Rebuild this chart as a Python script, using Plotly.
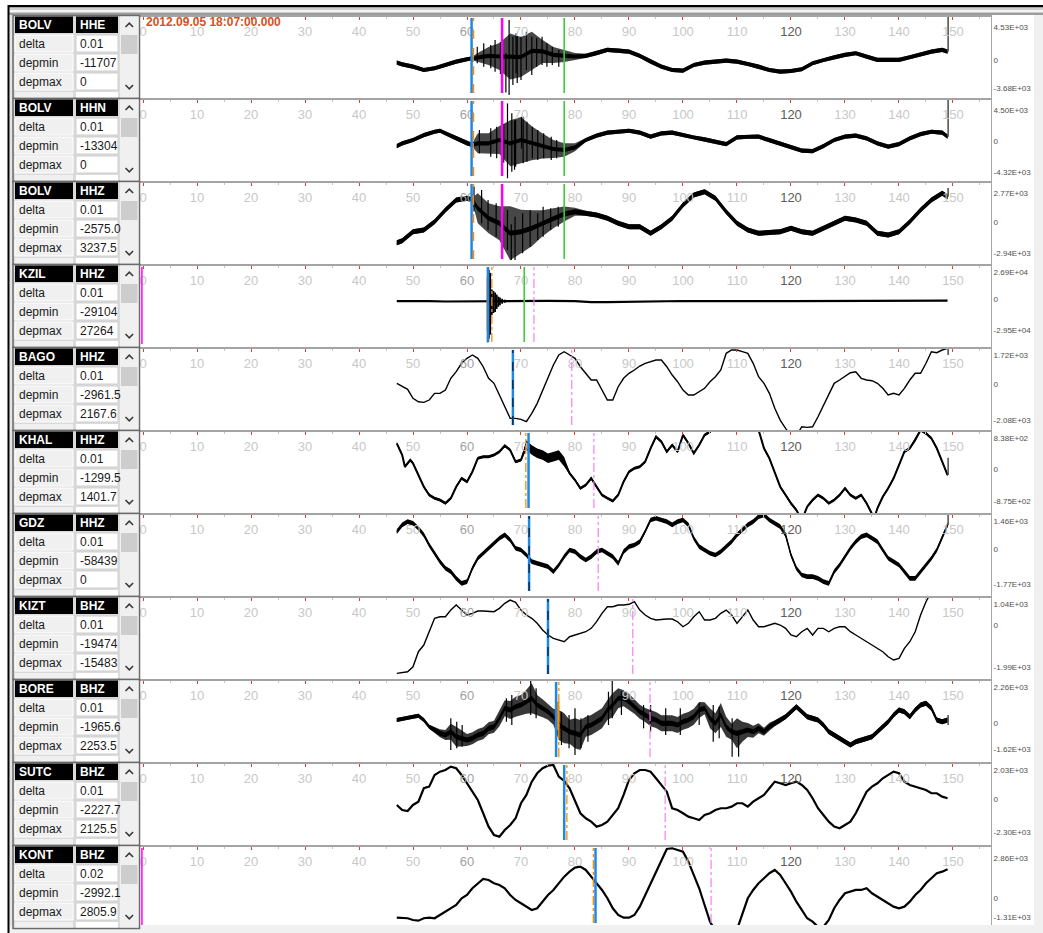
import plotly.graph_objects as go

W, H = 1043, 933
FONT = "Liberation Sans, Arial, sans-serif"

# ---------------- station header table ----------------
stations = ["BOLV", "BOLV", "BOLV", "KZIL", "BAGO", "KHAL", "GDZ", "KIZT", "BORE", "SUTC", "KONT"]
channels = ["HHE", "HHN", "HHZ", "HHZ", "HHZ", "HHZ", "HHZ", "BHZ", "BHZ", "BHZ", "BHZ"]
delta = ["0.01", "0.01", "0.01", "0.01", "0.01", "0.01", "0.01", "0.01", "0.01", "0.01", "0.02"]
depmin = ["-11707", "-13304", "-2575.0", "-29104", "-2961.5", "-1299.5", "-58439", "-19474", "-1965.6", "-2227.7", "-2992.1"]
depmax = ["0", "0", "3237.5", "27264", "2167.6", "1401.7", "0", "-15483", "2253.5", "2125.5", "2805.9"]

# amplitude scale labels of each trace window (counts)
amp_max = [4530, 4500, 2770, 26900, 1720, 838, 1460, 1040, 2260, 2030, 2860]
amp_min = [-3680, -4320, -2940, -29500, -2080, -875, -1770, -1990, -1620, -2300, -1310]

x_ticks = list(range(0, 151, 10))
start_time = "2012.09.05 18:07:00.000"

# ---------------- waveforms (time in s, amplitude in counts) ----------------
t_2s = [47, 48, 50, 52, 54, 56, 58, 60, 61] + list(range(62, 149, 2)) + [149]
t_1s = list(range(47, 150))

bolv_hhe_v = [-270, -490, -810, -1255, -1025, -580, -135, 190, 325,
              430, 635, 565, 560, 490, 1310, 1240, 770, 635, 565,
              635, 1000, 1445, 1350, 1215, 635, -135, -810, -1255, -1350,
              -580, -270, -135, 0, -135, -445, -810, -1255, -1485, -1390,
              -1160, -350, 95, 460, 770, 1000, 540, 95, 95, 95,
              460, 865, 1215, 1445, 1215]
bolv_hhe_hw = [280, 280, 280, 280, 280, 280, 280, 280, 280,
               610, 1215, 1820, 3100, 2700, 2565, 1550, 1080, 810, 470,
               280, 280, 280, 280, 280, 280, 280, 280, 280, 280,
               280, 280, 280, 280, 280, 280, 280, 280, 280, 280,
               280, 280, 280, 280, 280, 280, 280, 280, 280, 280,
               280, 280, 280, 280, 280]
bolv_hhe_spikes = [(61.9, -360, 1880), (63.1, -810, 2330), (64.4, -1030, 2110),
                   (65.2, -1480, 2780), (66.2, -1800, 2500), (66.4, -3050, 1880),
                   (67.2, -4300, 1000), (67.8, -4620, 5470), (68.5, -3280, 3230),
                   (69.1, -1700, 3680), (69.3, -3000, 3300), (70.0, -2600, 3230),
                   (71.0, -1260, 3900), (72.0, -1930, 3230), (72.9, -810, 3000),
                   (73.9, -585, 3230), (74.8, -810, 2330), (75.8, -585, 1880),
                   (77.0, -810, 1435)]

t_hhn = [47, 48, 50, 52, 54, 55, 56, 58, 60, 61] + list(range(62, 149, 2)) + [149]
bolv_hhn_v = [-625, -240, 230, 940, 1405, 1550, 1180, 470, -240, -480,
              -240, -240, 230, -240, 230, -240, -625, -1050, -1190, -810,
              230, 840, 1270, 1405, 1550, 1270, 700, 1180, 1270, 940,
              560, 325, -15, -340, 610, 700, 700, 230, -240, -810,
              -1290, -1335, -625, 230, 700, 840, 470, -240, -725, -340,
              470, 1080, 1405, 1270, 700]
bolv_hhn_hw = [300, 300, 300, 300, 300, 300, 300, 300, 300, 300,
               1420, 1420, 1990, 3270, 3270, 2420, 1780, 1280, 950, 570,
               300, 300, 300, 300, 300, 300, 300, 300, 300, 300,
               300, 300, 300, 300, 300, 300, 300, 300, 300, 300,
               300, 300, 300, 300, 300, 300, 300, 300, 300, 300,
               300, 300, 300, 300, 300]
bolv_hhn_spikes = [(62.3, -1665, 1650), (64.4, -2150, 1890), (65.5, -2380, 2120),
                   (66.8, -3000, 2500), (67.5, -5210, 5440), (68.3, -4280, 4030),
                   (68.8, -4000, 3000), (69.0, -3570, 3075), (70.1, -1000, 3540),
                   (70.4, -3090, 3540), (71.1, -2860, 2840), (72.1, -2380, 2120),
                   (73.1, -2620, 1650), (74.2, -2380, 1180), (75.6, -2620, 700),
                   (76.6, -2380, 230)]

bolv_hhz_v = [-1960, -1770, -915, -750, 40, 1150, 2105, 2265, 2105,
              1325, 360, -115, -1065, -915, -590, -115, 360, 770, 990,
              840, 675, 360, -115, -440, -440, -1065, -440, 360, 1630,
              2580, 2895, 2265, 990, -115, -750, -1065, -1000, -915, -590,
              -915, -1065, -590, -115, 360, 200, -115, -1065, -1220, -915,
              40, 1150, 2105, 2740, 2420]
bolv_hhz_hw = [240, 240, 240, 240, 240, 240, 240, 240, 240,
               1430, 1430, 1620, 2570, 2095, 1715, 1240, 950, 710, 380,
               240, 240, 240, 240, 240, 240, 240, 240, 240, 240,
               240, 240, 240, 240, 240, 240, 240, 240, 240, 240,
               240, 240, 240, 240, 240, 240, 240, 240, 240, 240,
               240, 240, 240, 240, 240]
bolv_hhz_spikes = [(61.3, 1000, 3400), (62.7, -115, 3055), (63.9, -750, 2100),
                   (65.4, -1390, 1790), (66.6, -2500, 800), (67.5, -2655, 1150),
                   (68.2, -3600, -200), (68.9, -3610, 515), (70.3, -2970, 840),
                   (71.7, -2340, 1150), (73.1, -1700, 840), (74.1, -1390, 1470),
                   (75.5, -750, 1310), (76.9, -440, 1470)]

t_kzil = [47, 50, 53, 56, 59, 62, 63.7, 66, 68, 70, 75, 80, 83, 86, 90, 93, 96,
          100, 105, 110, 115, 120, 125, 130, 135, 140, 145, 149]
kzil_v = [-1400, -1200, -1500, -1800, -1600, -1500, -1500, -1500, -1400, -1400, -1200,
          -1500, -2400, -2400, -2100, -1700, -1200, -1300, -1500, -1200, -1400, -1500,
          -1300, -1200, -1100, -1000, -1000, -900]
kzil_spikes = [(63.85, -41500, 31600), (64.05, -38000, 29000), (64.3, -34000, 26000),
               (64.6, -14800, 9900), (64.9, -13000, 8500), (65.2, -11900, 6900),
               (65.5, -9000, 5000), (65.8, -6900, 3000), (66.1, -5500, 2000),
               (66.5, -4000, 1000), (67.0, -3000, 0)]

bago_v = [64, -94, -287, -813, -1012, -1047, -913, -521, -521, -328,
          357, 743, 1234, 1527, 1720, 1527, 1035, 357, 64, -620,
          -1305, -1983, -1983, -2042, -2182, -1691, -1106, -328, 450, 1135,
          1720, 1913, 1720, 1527, 1035, 649, 257, 257, -328, -913,
          -913, -135, 357, 649, 842, 1076, 1234, 1328, 1427, 1427,
          1035, 550, 158, -328, -620, -620, -427, -228, 158, 450,
          842, 1819, 2012, 2012, 1913, 1819, 1234, 450, 64, -521,
          -1398, -2083, -2568, -3000, -3000, -2475, -2510, -2475, -1890, -1205,
          -620, 64, 257, 450, 684, 743, 357, 257, 216, 64,
          -228, -620, -521, -620, -228, 257, 649, 649, 1234, 1913,
          1855, 2012, 2112]

t_khal = [47, 48, 48.5, 49.5, 50] + list(range(51, 135)) + [134.8, 135.4] + list(range(136, 150))
khal_v = [694, 375, 57, 239, 150,
          -169, -487, -713, -802, -849, -938, -802, -487, -258, -351,
          -79, 286, 329, 329, 375, 465, 628, 511, 193, 239,
          647, 511, 422, 375, 286, 329, 375, 193, -122, -305,
          -530, -441, -258, -487, -713, -802, -876, -713, -351, -79,
          14, 57, 193, 558, 873, 737, 465, 647, 465, 919,
          694, 422, 647, 919, 1009, 1150, 1150, 1150, 1150, 1150,
          1150, 1150, 1150, 1055, 558, 286, -79, -487, -713, -938,
          -1121, -1400, -1031, -849, -713, -802, -938, -849, -713, -530,
          -713, -802, -713, -938,
          -1167, -1350,
          -1074, -759, -530, -258, 103, 465, 558, 783, 1055, 966, 830, 558, 193, -169]
khal_noisy = (71.0, 78.5, 130)

gdz_v = [913, 1257, 1426, 1344, 1088, 744, 231, -195, -626, -964,
         -1139, -1477, -1734, -1652, -964, -451, -195, 62, 318, 575,
         744, 487, 62, -26, -282, -626, -708, -795, -882, -1139,
         -795, -369, -26, -113, -369, -539, -369, -113, -26, -195,
         -369, -708, -113, 144, 231, 400, 913, 1513, 1601, 1513,
         1426, 1257, 1426, 1513, 1257, 575, 144, -26, -195, -282,
         -113, 144, 400, 744, 1000, 1257, 1426, 1683, 1770, 1513,
         1344, 1170, 744, -282, -964, -1308, -1395, -1395, -1477, -1652,
         -1734, -1139, -795, -369, 62, 400, 657, 744, 575, 400,
         -26, -451, -626, -795, -1139, -1477, -1477, -1139, -795, -451,
         -26, 575, 1257]
gdz_noise = 120

kizt_v = [-2294, -2246, -2217, -1977, -1255, -933, -293, 351, 428, 428,
          750, 991, 750, 510, 592, 702, 702, 669, 669, 832,
          1073, 1231, 1121, 750, 510, 351, 111, -212, -452, -611,
          -693, -774, -534, -452, -370, -293, -130, 188, 592, 909,
          909, 991, 991, 1025, 1150, 750, 510, 351, 269, 303,
          317, 317, 188, -53, 111, 428, 669, 269, 269, 351,
          592, 750, 510, 111, 428, 750, 269, -53, -53, 29,
          111, 29, -130, -452, -534, -293, -130, -452, -130, -130,
          -293, -130, -53, -53, -293, -452, -611, -774, -933, -1092,
          -1255, -1496, -1655, -1573, -1092, -774, -293, 510, 1150, 1616,
          2100, 2600, 3000]

bore_v = [194, 257, 338, 401, 463, 194, -225, -432, -639, -745,
          -538, -851, -952, -1058, -952, -745, -639, -326, -225, 300,
          926, 820, 1027, 1133, 1340, 1552, 1133, 926, 714, 401,
          -119, -326, -538, -639, -745, -225, -119, 88, 300, 820,
          1133, 1552, 1552, 1340, 1027, 714, 507, 300, 194, -13,
          -13, -13, -119, 88, 194, 401, 820, 926, 300, -13,
          507, -225, -538, -639, -538, -432, -538, -326, -538, -225,
          -13, 194, 401, 714, 1027, 714, 401, 300, 194, -119,
          -538, -745, -952, -1164, -1371, -1164, -1058, -952, -851, -538,
          -225, 88, 507, 820, 714, 401, 820, 1133, 1240, 926,
          194, 88, 194]
bore_hw = [125, 125, 125, 125, 125, 125, 125, 190, 250, 310,
           500, 625, 500, 375, 375, 375, 375, 375, 375, 500,
           500, 560, 625, 625, 750, 940, 625, 560, 500, 500,
           940, 940, 750, 940, 940, 625, 625, 625, 625, 625,
           750, 625, 500, 500, 440, 440, 440, 500, 500, 500,
           500, 500, 500, 500, 500, 500, 500, 375, 625, 625,
           750, 625, 500, 940, 625, 440, 375, 310, 250, 250,
           190, 190, 160, 160, 160, 160, 160, 160, 160, 160,
           160, 160, 160, 160, 160, 160, 160, 160, 160, 160,
           160, 160, 160, 160, 160, 160, 160, 160, 160, 160,
           160, 160, 160]
bore_spikes = [(57.0, -1684, 300), (58.1, -1578, 88), (59.1, -1477, -119),
               (67.3, 88, 1552), (68.3, -119, 1759), (71.8, 507, 2698),
               (72.8, 300, 2178), (77.5, -1371, 714), (78.9, -1578, 507),
               (80.0, -2000, 926), (81.1, -1578, 300), (82.4, -1164, 507),
               (86.2, -119, 1966), (86.9, 300, 2635), (88.6, 507, 1966),
               (92.7, -326, 1133), (94.0, -538, 1133), (96.8, -745, 926),
               (99.5, -745, 926), (103.0, -119, 1240), (105.6, -1164, 1133),
               (106.7, -952, 1027), (109.1, -2100, 300), (110.3, -2100, -500)]

sutc_v = [-412, -761, -831, -412, -181, 754, 866, 1682, 1913, 2031,
          2262, 2150, 1682, 1103, 517, -63, -991, -1926, -2506, -2624,
          -2157, -1808, -1340, -293, 286, 1215, 1801, 2150, 2331, 2380,
          1564, 1263, 754, -181, -991, -1340, -1577, -1926, -1808, -1577,
          -1110, -642, 286, 1333, 1801, 2031, 2031, 1913, 1452, 984,
          517, -642, -761, -991, -1228, -1340, -1459, -1110, -991, -761,
          -642, -642, -530, -293, -293, -530, -181, 56, 286, 754,
          1215, 1103, 984, 1103, 1215, 984, 635, 56, -642, -1110,
          -1577, -1926, -2038, -1808, -1577, -991, -181, 517, 866, 1103,
          1452, 1682, 1913, 1801, 1215, 984, 866, 754, 635, 405,
          405, 168, 56]

kont_v = [-1357, -1357, -1400, -1520, -1570, -1400, -1357, -1400, -1167, -933,
          -693, -460, 14, 247, 721, 1075, 1379, 1308, 1075, 954,
          721, 247, -106, -339, -580, -813, -693, -226, 247, 601,
          1075, 1541, 1895, 2178, 2248, 2015, 1541, 1075, 601, 14,
          -693, -1167, -1357, -1357, -1167, -580, 247, 954, 1782, 2722,
          3500, 3549, 3450, 3309, 2602, 1661, 721, -460, -1640, -2300,
          -2600, -2600, -2600, -2200, -1167, 14, 601, 1075, 1428, 1782,
          2015, 1661, 1075, 481, -226, -813, -1400, -1640, -2000, -2000,
          -1520, -693, -106, 368, 481, 601, 601, 721, 368, 127,
          -106, -339, -580, -693, -580, -226, 247, 601, 1075, 1428,
          1782, 1895, 2064]

# phase picks per trace: (time, kind)
picks = [
    [(60.85, "P"), (61.2, "Pdash"), (66.5, "S"), (78.0, "G")],
    [(60.85, "P"), (61.2, "Pdash"), (66.5, "S"), (78.0, "G")],
    [(60.85, "P"), (61.2, "Pdash"), (66.5, "S"), (78.0, "G")],
    [(-0.2, "E"), (63.9, "P"), (64.6, "Pdd"), (70.6, "G"), (72.4, "T")],
    [(68.5, "P"), (68.5, "K"), (79.4, "T")],
    [(70.9, "Pdd"), (71.4, "P"), (83.5, "T")],
    [(71.5, "P"), (71.5, "K"), (84.3, "T")],
    [(75.0, "P"), (75.0, "K"), (90.7, "T")],
    [(76.5, "P"), (77.0, "Pdd"), (93.9, "T")],
    [(78.0, "P"), (78.5, "Pdd"), (96.7, "T")],
    [(-0.2, "E"), (83.4, "Pdd"), (83.8, "P"), (105.2, "T")],
]

# trace-end markers and highlighted pick samples: (trace, time, low, high)
end_marks = [(0, 149.1, 1215, 6000), (1, 149.1, 700, 6500), (2, 149.1, 2420, 3250),
             (4, 149.1, 1720, 2112), (5, 149.1, -169, 300), (6, 149.1, 1257, 1924),
             (8, 149.1, -119, 507)]
pick_marks = [(0, 61.0, -180, 1030), (1, 61.0, -900, -200), (2, 61.0, 1630, 2100),
              (3, 63.75, -30000, 22000), (5, 71.2, 565, 700), (8, 76.85, -430, 1340)]

# ---------------- layout geometry (pixels) ----------------
panel_top = [17, 100, 183, 266, 349, 432, 515, 598, 681, 764, 847]
panel_bot = [100, 183, 266, 349, 432, 515, 598, 681, 764, 847, 925]
lbl_top_px = [27, 110, 193, 272, 355, 438, 521, 604, 687, 770, 858]
lbl_bot_px = [88, 172, 253, 330, 420, 501, 584, 667, 749, 832, 917]
PLOT_L, PLOT_R = 140, 991
X_RANGE = [-0.556, 157.04]

pick_style = {
    "P": dict(color="#1e88e8", width=2.5, dash="solid"),
    "Pdash": dict(color="#ff8c00", width=1.5, dash="dash"),
    "Pdd": dict(color="#ff8c00", width=1.3, dash="dashdot"),
    "S": dict(color="#ff00ff", width=2.5, dash="solid"),
    "G": dict(color="#3ccc3c", width=1.6, dash="solid"),
    "T": dict(color="#f77ef7", width=1.2, dash="dashdot"),
    "K": dict(color="#000000", width=1.0, dash="dash"),
    "E": dict(color="#ff00ff", width=1.5, dash="solid"),
}

fig = go.Figure()
shapes, annotations = [], []


def ax_names(i):
    return ("x" if i == 0 else f"x{i+1}"), ("y" if i == 0 else f"y{i+1}")


def px_x(x):
    return x / W


def px_y(y):
    return 1 - y / H


def prect(x0, y0, x1, y1, fill, line_color=None, lw=0):
    shapes.append(dict(type="rect", xref="paper", yref="paper",
                       x0=px_x(x0), x1=px_x(x1), y0=px_y(y1), y1=px_y(y0),
                       fillcolor=fill, line=dict(color=line_color or "rgba(0,0,0,0)", width=lw),
                       layer="above"))


def pline(x0, y0, x1, y1, color, width):
    shapes.append(dict(type="line", xref="paper", yref="paper",
                       x0=px_x(x0), x1=px_x(x1), y0=px_y(y0), y1=px_y(y1),
                       line=dict(color=color, width=width)))


def ppath(points, color, width):
    d = "M " + " L ".join(f"{px_x(x):.5f},{px_y(y):.5f}" for x, y in points)
    shapes.append(dict(type="path", xref="paper", yref="paper", path=d,
                       line=dict(color=color, width=width)))


def ptext(x, y, text, size=12, color="#1a1a1a"):
    annotations.append(dict(xref="paper", yref="paper", x=px_x(x), y=px_y(y), text=text,
                            showarrow=False, xanchor="left", yanchor="middle",
                            font=dict(family=FONT, size=size, color=color)))


def band(i, t, v, hw, fill):
    xa, ya = ax_names(i)
    up = [a + b for a, b in zip(v, hw)]
    lo = [a - b for a, b in zip(v, hw)]
    fig.add_trace(go.Scatter(x=list(t) + list(t)[::-1], y=up + lo[::-1], mode="lines",
                             fill="toself", fillcolor=fill, line=dict(width=0),
                             xaxis=xa, yaxis=ya, hoverinfo="skip", showlegend=False))


def add_wave(i, t, v, hw=None, width=1.5, core=None, burst_fill="rgba(0,0,0,0.72)"):
    """Trace line; noisy traces get a translucent envelope plus a solid core band."""
    xa, ya = ax_names(i)
    if hw is not None:
        if core is None:
            band(i, t, v, hw, "#000000")
        else:
            band(i, t, v, hw, burst_fill)
            band(i, t, v, [min(h, core) for h in hw], "#000000")
    fig.add_trace(go.Scatter(x=list(t), y=list(v), mode="lines",
                             line=dict(color="black", width=width),
                             xaxis=xa, yaxis=ya, hoverinfo="skip", showlegend=False))


def add_segments(i, segs, color="black", width=1.2):
    xa, ya = ax_names(i)
    xs, ys = [], []
    for t, lo, hi in segs:
        xs += [t, t, None]
        ys += [lo, hi, None]
    fig.add_trace(go.Scatter(x=xs, y=ys, mode="lines", line=dict(color=color, width=width),
                             xaxis=xa, yaxis=ya, hoverinfo="skip", showlegend=False))


# ---------------- waveforms ----------------
add_wave(0, t_2s, bolv_hhe_v, bolv_hhe_hw, width=1.0, core=280)
add_segments(0, bolv_hhe_spikes)
add_wave(1, t_hhn, bolv_hhn_v, bolv_hhn_hw, width=1.0, core=300)
add_segments(1, bolv_hhn_spikes)
add_wave(2, t_2s, bolv_hhz_v, bolv_hhz_hw, width=1.0, core=240)
add_segments(2, bolv_hhz_spikes)
add_wave(3, t_kzil, kzil_v, width=2.2)
add_segments(3, kzil_spikes, width=1.8)
add_wave(4, t_1s, bago_v, width=1.4)
khal_hw = [khal_noisy[2] if khal_noisy[0] <= t <= khal_noisy[1] else 40 for t in t_khal]
add_wave(5, t_khal, khal_v, khal_hw, width=2.0)
add_wave(6, t_1s, gdz_v, [gdz_noise] * len(gdz_v), width=1.5)
add_wave(7, t_1s, kizt_v, width=1.4)
add_wave(8, t_1s, bore_v, bore_hw, width=1.0, core=160, burst_fill="rgba(0,0,0,0.78)")
add_segments(8, bore_spikes)
add_wave(9, t_1s, sutc_v, width=2.2)
add_wave(10, t_1s, kont_v, width=2.2)

for i, t, lo, hi in end_marks:
    add_segments(i, [(t, lo, hi)], color="#4a4a4a", width=1.5)
for i, t, lo, hi in pick_marks:
    add_segments(i, [(t, lo, hi)], color="#ff8c00", width=3 if i != 3 else 1.5)

# ---------------- axes ----------------
layout_axes = {}
tick_text = []
for v in x_ticks:
    if v == 60:
        tick_text.append(f"<span style='color:#a2a2a2'>{v}</span>")
    elif v == 120:
        tick_text.append(f"<span style='color:#5c5c5c'>{v}</span>")
    else:
        tick_text.append(str(v))

for i in range(len(stations)):
    xa, ya = ax_names(i)
    T, B = panel_top[i], panel_bot[i]
    s = (lbl_bot_px[i] - lbl_top_px[i]) / (amp_max[i] - amp_min[i])
    y_hi = amp_max[i] + (lbl_top_px[i] - T) / s
    y_lo = amp_min[i] - (B - lbl_bot_px[i]) / s
    xkey = "xaxis" if i == 0 else f"xaxis{i+1}"
    ykey = "yaxis" if i == 0 else f"yaxis{i+1}"
    layout_axes[xkey] = dict(
        domain=[PLOT_L / W, PLOT_R / W], range=X_RANGE, anchor=ya, side="top",
        showline=True, linecolor="#a4a4a4", linewidth=2,
        ticks="inside", ticklen=3, tickwidth=1, tickcolor="#e03c3c",
        tickmode="array", tickvals=x_ticks, ticktext=tick_text,
        ticklabelposition="inside", ticklabeloverflow="allow", ticklabelstandoff=7,
        tickfont=dict(family=FONT, size=13, color="#c8c8c8"),
        minor=dict(dtick=5, tick0=0, ticks="inside", ticklen=2, tickcolor="#c4c4c4"),
        showgrid=False, zeroline=False, fixedrange=True)
    layout_axes[ykey] = dict(
        domain=[1 - B / H, 1 - T / H], range=[y_lo, y_hi], anchor=xa, side="right",
        showline=True, mirror=True, linecolor="#a8a8a8", linewidth=1,
        ticks="", tickmode="array", tickvals=[amp_max[i], 0, amp_min[i]],
        ticktext=[f"{amp_max[i]:.2E}", "0", f"{amp_min[i]:.2E}"],
        tickfont=dict(family=FONT, size=8, color="#505050"),
        showgrid=False, zeroline=False, fixedrange=True)

    # phase pick lines
    frac_bottom = 1 - 76 / (B - T)
    frac_top = 1 - 1 / (B - T)
    for t, kind in picks[i]:
        st = pick_style[kind]
        y0 = 1 - 78 / (B - T) if kind == "E" else frac_bottom
        shapes.append(dict(type="line", xref=xa, yref=f"{ya} domain",
                           x0=t, x1=t, y0=y0, y1=frac_top,
                           line=dict(color=st["color"], width=st["width"], dash=st["dash"])))

# ---------------- window chrome ----------------
prect(8, 5, 1043, 7.5, "#000000")
prect(8, 7.5, 1043, 10, "#cfcfcf")
prect(8, 10, 1043, 12.5, "#f4f4f4")
prect(8, 12.5, 1043, 15, "#9c9c9c")
prect(9.5, 15, 13, 925, "#e4e4e4")
prect(9.5, 925, 1043, 933, "#f0f0f0")
prect(1034, 15, 1043, 925, "#f0f0f0")
pline(8.5, 5, 8.5, 933, "#000000", 2)

# ---------------- station tables ----------------
for i in range(len(stations)):
    T = panel_top[i]
    prect(13, T - 1.5, 139.5, T + 81.5, "#dadada", "#6a6a6a", 1.5)
    prect(15, T - 0.5, 73, T + 16, "#000000")
    prect(76, T - 0.5, 118, T + 16, "#000000")
    for r in range(3):
        y0 = T + 18 + 19 * r
        prect(15, y0, 73, y0 + 17, "#f0f0f0", "#ffffff", 1)
        prect(76, y0, 118, y0 + 17, "#ffffff", "#cfcfcf", 1)
    prect(15, T + 75, 73, T + 80.5, "#f0f0f0")
    prect(76, T + 75, 118, T + 80.5, "#ffffff")
    prect(120, T - 0.5, 138.5, T + 80.5, "#f0f0f0")
    prect(121, T + 18, 137.5, T + 37, "#cdcdcd")
    ppath([(125.5, T + 10), (129.3, T + 6.2), (133.1, T + 10)], "#3a3a3a", 1.6)
    ppath([(125.5, T + 68), (129.3, T + 71.8), (133.1, T + 68)], "#3a3a3a", 1.6)
    ptext(17, T + 8, f"<b>{stations[i]}</b>", color="#ffffff")
    ptext(78, T + 8, f"<b>{channels[i]}</b>", color="#ffffff")
    ptext(17, T + 27, "delta")
    ptext(78, T + 27, delta[i])
    ptext(17, T + 46, "depmin")
    ptext(78, T + 46, depmin[i])
    ptext(17, T + 65, "depmax")
    ptext(78, T + 65, depmax[i])

ptext(144, 22.5, f"<b>{start_time}</b>", size=12, color="#d4521c")

fig.update_layout(
    width=W, height=H, margin=dict(l=0, r=0, t=0, b=0),
    paper_bgcolor="#ffffff", plot_bgcolor="#ffffff",
    showlegend=False, shapes=shapes, annotations=annotations,
    **layout_axes)

fig.write_html("out.html")
